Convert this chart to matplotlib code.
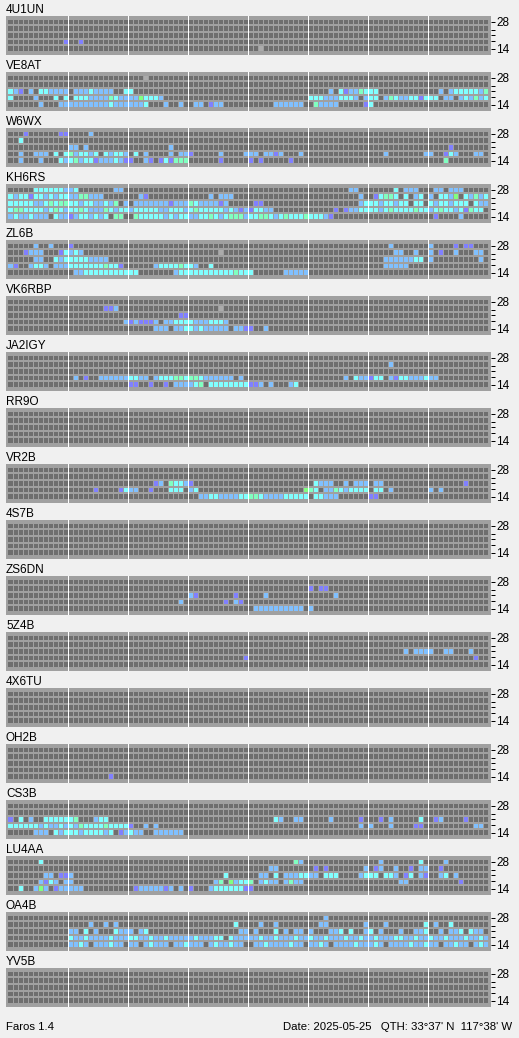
"""
Propagation grid for NCDXF/IARU beacons (Faros style screen)
"""

import numpy as np
import matplotlib
matplotlib.use('Agg')
from matplotlib import pyplot as plt
from matplotlib.colors import ListedColormap, BoundaryNorm

# bands, top row first
BANDS = [28, 24, 21, 18, 14]
BAND_LABELS = ['28', '', '', '', '14']
N_SLOTS = 96    # 15 minute slots over 24 hours
SLOTS_PER_BLOCK = 12

# cell codes: '.' nothing heard, 'x' no data, p/b/c/m/g signal levels
CODES = ['.', 'x', 'p', 'b', 'c', 'm', 'g']
CODE_COLORS = ['#6e6e6e', '#ababab', '#8080ff', '#80c0ff', '#80ffff',
        '#80ffc0', '#80ff80']

STATIONS = ['4U1UN', 'VE8AT', 'W6WX', 'KH6RS', 'ZL6B', 'VK6RBP', 'JA2IGY',
        'RR9O', 'VR2B', '4S7B', 'ZS6DN', '5Z4B', '4X6TU', 'OH2B', 'CS3B',
        'LU4AA', 'OA4B', 'YV5B']

# each row is 8 blocks of 12 slots separated by '|', rows are 28,24,21,18,14
S_4U1UN = ["", "", "",
        "...........p|..p.........",
        "............|............|............|............|..x........."]
S_VE8AT = ["............|............|...x........",
        "",
        "cbp.b.ccbbbb|.bbbcbbbb..c|c...........|............|............|....b.cpbbmc|cc..........|..b.bcccccbm",
        "c....b...c.c|.cccbbbbmcbb|bbgcccb.....|............|............|cccbbbcccb.b|cc.bmcbbccpc|cc.bb.bcbmbc",
        "......b...bb|bbbbbbbbcbbb|bbbc...b..b.|.bb.pbb.....|.....bbbbbb.|.mbbbb.....p|c..........."]
S_W6WX = ["...p......pp|....b.......",
        "..c.........",
        "............|bb.b........|........b...|............|............|............|............|....p.......",
        "..b..bbb.c.c|mbccbc.cbccb|.c.b....b.bb|p.....b....b|bb.bbpb...b.|............|...b.......b|b..pcb...bb.",
        "..b...b...cb|cmbccpbbbcbp|p..bp.pcpmmm|......p.....|p.p.....p...|............|............|...m........"]
S_KH6RS = [".....ccccccb|bc.......bb.|............|............|............|........bb..|.....c.bbb..|.bb.bbb.....",
        "cbccpccbcbcc|bbmmbbb.....|..bp........|....b.bbb...|............|..........b.|.pcmmc.c.bc.|b.ccbg.cbmbc",
        "cccccbbcmcmm|ccbccbbcbm.b|.bbbbbbbpbbb|mcbbbbpb....|.pp.........|..........bc|ccbccbcc.cc.|cbccbccc.cbb",
        "cmmccccbcmcb|ccmcbbbmcbcc|bcccccbbcccb|cmcccccbcbpb|pccbb.......|.....p.pbbcc|ccbcmccccmcc|bcmccbcpmcc.",
        "bcbbcbbb.cbb|pbccbcbc.mm.|.mcccccbcbcc|bbccmcbcmmmb|ccmmcbcmcccm|cccbp.......|............|.p....b....."]
S_ZL6B = [".....b..b...|p...........|............|............|............|............|....b.......|b....p.pp...",
        "...pbbb...pc|bcb.........|............|......x.....|............|............|.....bb..b..|b.p..b...bb.",
        ".....bb..cbc|ccccbbbb....|............|............|............|............|...bbbbbbcc.|b.........b.",
        "bp..bccb.bbb|cccccccmccp.|.....bccccmc|cb..c.......|............|............|...bbbbb....",
        "............|.bbccccccccc|cc.......bcc|cccccccccmcc|c......bbbbb"]
S_VK6RBP = ["",
        "............|.......ppb..|............|......x.....",
        "............|............|..........pp",
        "............|...........b|pbpppb.bbccc|cbbbcccb....",
        "............|............|.....bbb.bbc|cbcbbbbb.bbp|p..b........"]
S_JA2IGY = ["",
        "............|............|............|............|............|............|....b.......",
        "",
        "............|.b.p..bbbbbb|ccbb.bcccmmc|mmcbbbbbb.b.|............|.......b.cbb|pcc.bpccbbbc|bb..........",
        "............|............|pp..p..p.bbb|bcm.cccccccc|ppb.b...bc.."]
S_RR9O = ["", "", "", "", ""]
S_VR2B = ["", "",
        "............|............|.....pb.mccb|p...........|............|.cbbb..b.bbb|.bb.........|.......p....",
        "............|.....p....pc|bb..p...ccc.|bc..........|...........g|mc.bbmcbcccc|.cc.b.......|b.b.........",
        "............|............|............|..bbccbbbbcc|mmcbbbbccccc|.ccbbb......|pp.........."]
S_4S7B = ["", "", "", "", ""]
S_ZS6DN = ["",
        "............|............|............|............|............|p.pp........",
        "............|............|............|bp.......p..|...b........|.....b......",
        "............|............|..........b.|.......p.bp.",
        "............|............|............|............|.bbbbbbbbbb.|b..........."]
S_5Z4B = ["", "",
        "............|............|............|............|............|............|.......b.bbb|b..bb...b...",
        "............|............|............|...........p|............|............|............|.........p..",
        ""]
S_4X6TU = ["", "", "", "", ""]
S_OH2B = ["", "", "", "",
        "............|........p..."]
S_CS3B = ["", "",
        "p.c.b..ccccc|cm...bcc....|............|............|.....cb..bb.|....b.....p.|..p.b.....c.|.pb....p....",
        "ccccccbcbbcb|cbmccccmcccc|p..b.b......|............|............|..........b.|b...b....pp.|.........bb.",
        ".....bbb.cbc|ccbccccbc.pb|cbb..bbbbbb."]
S_LU4AA = ["......c.....|............|............|............|.........mb.|............|..b.......c.|...b........",
        "............|............|............|............|....bb......|.p.p.......b|.pb..b..p.bb|..p.........",
        ".......bb.pp|b...........|............|.......c....|..bb.c.bbbcc|bb.ccc....bc|cc.ccb.pc.bp|..bc.b......",
        "......bpcb.b|b...........|............|.....bm.gbcc|m.bcbb.bmbb.|............|......bb....|......p.....",
        "..c..bgb.pbb|bbb.........|.pbbbbbpb.b.|p...bccccccp|p..........."]
S_OA4B = ["............|............|............|............|............|...b........",
        "............|....b..b.b..|............|.........c..|..b..b......|..bb.......b|...b.......c|.b..c.......",
        "............|bb.c.b...cbb|b.bc........|..........bb|.b...c.b.bb.|b...bbc.c..b|c.b...b..bbc|..b.bbc.cbb.",
        "............|cbbcbbbbcbbb|ccbbcbbcbbbb|bcbbbcc.cbbb|bbcbbcbbbcbb|cbbcbbbcbbcb|bcbbbccbbcbb|cbbcbbbcbbcb",
        "............|bbcb.bbbcbb.|bb.bcbbb.bbc|bbb.bcbbcbb.|.bbcbbbbcbb.|bbcb.bbbbcbb|bcb.bbbbcbbc|bb.bbcbb.bcb"]
S_YV5B = ["", "", "", "", ""]

SPOTS = [S_4U1UN, S_VE8AT, S_W6WX, S_KH6RS, S_ZL6B, S_VK6RBP, S_JA2IGY,
        S_RR9O, S_VR2B, S_4S7B, S_ZS6DN, S_5Z4B, S_4X6TU, S_OH2B, S_CS3B,
        S_LU4AA, S_OA4B, S_YV5B]

FOOTER_LEFT = "Faros 1.4"
FOOTER_RIGHT = "Date: 2025-05-25   QTH: 33\u00b037' N  117\u00b038' W"

# screen layout in pixels
FIG_W, FIG_H = 519, 1038
PANEL_X, PANEL_W = 6, 485
PANEL_Y0, PANEL_STEP, PANEL_H = 16, 56, 39.3
BG_COLOR = '#f0f0f0'
GRID_COLOR = '#a0a0a0'
PX = 0.72   # one pixel in points at dpi 100


def parse_rows(a_rows):
    """ Turn the block strings of one station into a band x slot code grid """
    grid = np.zeros((len(BANDS), N_SLOTS), dtype=int)
    for i, r in enumerate(a_rows):
        segs = r.split('|') if r else []
        line = ''.join(s.ljust(SLOTS_PER_BLOCK, '.')[:SLOTS_PER_BLOCK]
                for s in segs).ljust(N_SLOTS, '.')
        grid[i] = [CODES.index(ch) for ch in line]
    # endfor #
    return grid
# enddef parse_rows() #


def draw_panel(a_fig, a_k, a_name, a_rows, a_cmap, a_norm):
    """ Draw one station grid """
    top = PANEL_Y0 + PANEL_STEP * a_k
    ax = a_fig.add_axes([PANEL_X / FIG_W, 1 - (top + PANEL_H) / FIG_H,
            PANEL_W / FIG_W, PANEL_H / FIG_H])
    ax.set_facecolor(GRID_COLOR)
    grid = parse_rows(a_rows)
    ax.pcolormesh(np.arange(N_SLOTS + 1), np.arange(len(BANDS) + 1), grid,
            cmap=a_cmap, norm=a_norm, antialiased=False)
    # gaps between cells
    ax.vlines(np.arange(1, N_SLOTS), 0, len(BANDS), color=GRID_COLOR,
            lw=PX, antialiased=False)
    ax.hlines(np.arange(len(BANDS) + 1), -1, N_SLOTS + 1, color=GRID_COLOR,
            lw=2 * PX, antialiased=False)
    # white separators every 3 hours
    for xs in np.arange(SLOTS_PER_BLOCK, N_SLOTS, SLOTS_PER_BLOCK):
        ax.axvline(xs, color='white', lw=PX, antialiased=False)
    # endfor #
    ax.set_xlim(-0.46, N_SLOTS + 0.54)
    ax.set_ylim(len(BANDS) + 0.5, -0.39)
    for sp in ax.spines.values():
        sp.set_visible(False)
    # endfor #
    ax.set_xticks([])
    ax.yaxis.tick_right()
    ax.set_yticks([0.5 + 4.0 * (28 - f) / 14.0 for f in BANDS])
    ax.set_yticklabels(BAND_LABELS, fontsize=8.5)
    ax.tick_params(axis='y', length=3.5 * PX, width=PX, pad=1.2,
            colors='black')
    a_fig.text(PANEL_X / FIG_W, 1 - (top - 3.3) / FIG_H, a_name,
            va='baseline', ha='left', fontsize=8.5)
# enddef draw_panel() #


def main():
    plt.rcParams['font.family'] = ['Liberation Sans', 'DejaVu Sans']
    fig = plt.figure(figsize=(FIG_W / 100.0, FIG_H / 100.0), dpi=100)
    fig.patch.set_facecolor(BG_COLOR)
    cmap = ListedColormap(CODE_COLORS)
    norm = BoundaryNorm(np.arange(len(CODES) + 1) - 0.5, cmap.N)
    for k, (name, rows) in enumerate(zip(STATIONS, SPOTS)):
        draw_panel(fig, k, name, rows, cmap, norm)
    # endfor #
    fig.text(6.5 / FIG_W, 1 - 1030 / FIG_H, FOOTER_LEFT, va='baseline',
            ha='left', fontsize=8.2)
    fig.text(512.5 / FIG_W, 1 - 1030 / FIG_H, FOOTER_RIGHT, va='baseline',
            ha='right', fontsize=8.2)
    fig.savefig('out.png', dpi=100, facecolor=BG_COLOR)
# enddef main() #


if __name__ == "__main__":
    main()
# endif #
